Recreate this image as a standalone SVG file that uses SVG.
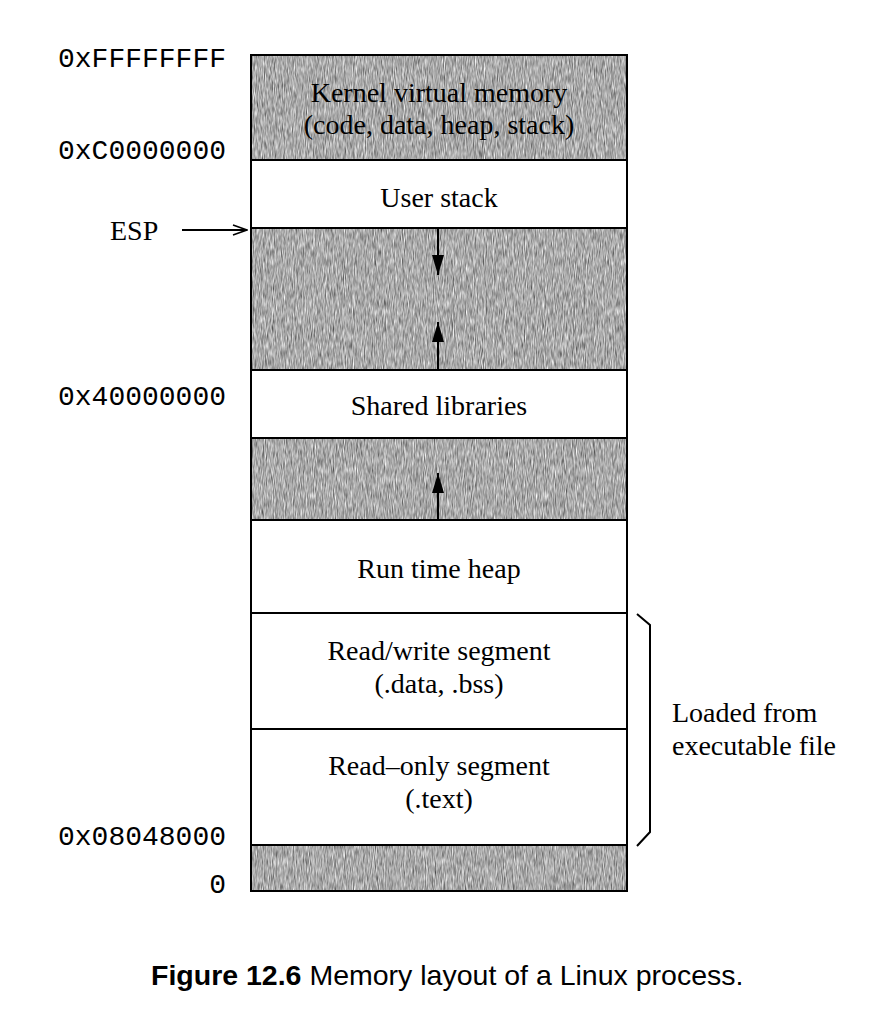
<svg xmlns="http://www.w3.org/2000/svg" width="892" height="1026" viewBox="0 0 892 1026">
  <style>
    .seg { stroke: #000; stroke-width: 2; }
    .white { fill: #fff; }
    .gray { fill: #a9a9a9; }
    .lbl { font-family: "Liberation Serif", "Times New Roman", serif; font-size: 28px; fill: #000; text-anchor: middle; }
    .addr { font-family: "Liberation Mono", "Courier New", monospace; font-size: 28px; fill: #000; text-anchor: end; }
    .side { font-family: "Liberation Serif", "Times New Roman", serif; font-size: 28px; fill: #000; }
    .cap { font-family: "Liberation Sans", Arial, sans-serif; font-size: 28.5px; fill: #000; }
    .conn { stroke: #000; stroke-width: 2; fill: none; }
  </style>
  <defs>
    <filter id="grain" x="0" y="0" width="100%" height="100%" color-interpolation-filters="sRGB">
      <feTurbulence type="fractalNoise" baseFrequency="1.1 0.12" numOctaves="2" seed="7" result="n"/>
      <feColorMatrix in="n" type="matrix" values="0.33 0.33 0.33 0 0  0.33 0.33 0.33 0 0  0.33 0.33 0.33 0 0  0 0 0 0 1"/>
      <feComponentTransfer>
        <feFuncR type="linear" slope="1.3" intercept="0.02"/>
        <feFuncG type="linear" slope="1.3" intercept="0.02"/>
        <feFuncB type="linear" slope="1.3" intercept="0.02"/>
      </feComponentTransfer>
      <feComposite in2="SourceGraphic" operator="in"/>
    </filter>
    <marker id="solid" markerUnits="userSpaceOnUse" markerWidth="20" markerHeight="12" refX="20" refY="6" orient="auto">
      <path d="M0,0 L20,6 L0,12 Z" fill="#000"/>
    </marker>
    <marker id="open" markerUnits="userSpaceOnUse" markerWidth="16" markerHeight="12" refX="15" refY="6" orient="auto">
      <path d="M1,1 L15,6 L1,11" fill="none" stroke="#000" stroke-width="1.6"/>
    </marker>
  </defs>

  <rect width="892" height="1026" fill="#fff"/>

  <g id="kernel-virtual-memory">
    <rect class="gray" x="251" y="55" width="376" height="105" filter="url(#grain)"/>
    <rect class="seg" x="251" y="55" width="376" height="105" fill="none"/>
    <text class="lbl" x="439" y="102">Kernel virtual memory</text>
    <text class="lbl" x="439" y="134">(code, data, heap, stack)</text>
  </g>

  <g id="user-stack">
    <rect class="seg white" x="251" y="160" width="376" height="68"/>
    <text class="lbl" x="439" y="207">User stack</text>
  </g>

  <g id="gap-stack-libs">
    <rect class="gray" x="251" y="228" width="376" height="142" filter="url(#grain)"/>
    <rect class="seg" x="251" y="228" width="376" height="142" fill="none"/>
  </g>

  <g id="shared-libraries">
    <rect class="seg white" x="251" y="370" width="376" height="68"/>
    <text class="lbl" x="439" y="415">Shared libraries</text>
  </g>

  <g id="gap-libs-heap">
    <rect class="gray" x="251" y="438" width="376" height="82" filter="url(#grain)"/>
    <rect class="seg" x="251" y="438" width="376" height="82" fill="none"/>
  </g>

  <g id="run-time-heap">
    <rect class="seg white" x="251" y="520" width="376" height="93"/>
    <text class="lbl" x="439" y="578">Run time heap</text>
  </g>

  <g id="read-write-segment">
    <rect class="seg white" x="251" y="613" width="376" height="116"/>
    <text class="lbl" x="439" y="660">Read/write segment</text>
    <text class="lbl" x="439" y="693">(.data, .bss)</text>
  </g>

  <g id="read-only-segment">
    <rect class="seg white" x="251" y="729" width="376" height="116"/>
    <text class="lbl" x="439" y="775">Read–only segment</text>
    <text class="lbl" x="439" y="808">(.text)</text>
  </g>

  <g id="bottom-unused">
    <rect class="gray" x="251" y="845" width="376" height="46" filter="url(#grain)"/>
    <rect class="seg" x="251" y="845" width="376" height="46" fill="none"/>
  </g>

  <g id="addresses">
    <text class="addr" x="226" y="67">0xFFFFFFFF</text>
    <text class="addr" x="226" y="159">0xC0000000</text>
    <text class="addr" x="226" y="405">0x40000000</text>
    <text class="addr" x="226" y="845">0x08048000</text>
    <text class="addr" x="226" y="893">0</text>
  </g>

  <g id="esp-label">
    <text class="side" x="110" y="240">ESP</text>
  </g>

  <g id="loaded-label">
    <text class="side" x="672" y="722">Loaded from</text>
    <text class="side" x="672" y="755">executable file</text>
  </g>

  <g id="connectors">
    <line class="conn" x1="182" y1="230" x2="247" y2="230" marker-end="url(#open)"/>
    <line class="conn" x1="438" y1="229" x2="438" y2="275" marker-end="url(#solid)"/>
    <line class="conn" x1="438" y1="369" x2="438" y2="322" marker-end="url(#solid)"/>
    <line class="conn" x1="438" y1="519" x2="438" y2="473" marker-end="url(#solid)"/>
    <path class="conn" d="M637,614 L650,625 L650,832 L637,846"/>
  </g>

  <g id="caption">
    <text class="cap" x="151" y="985"><tspan font-weight="bold">Figure 12.6</tspan> Memory layout of a Linux process.</text>
  </g>
</svg>
